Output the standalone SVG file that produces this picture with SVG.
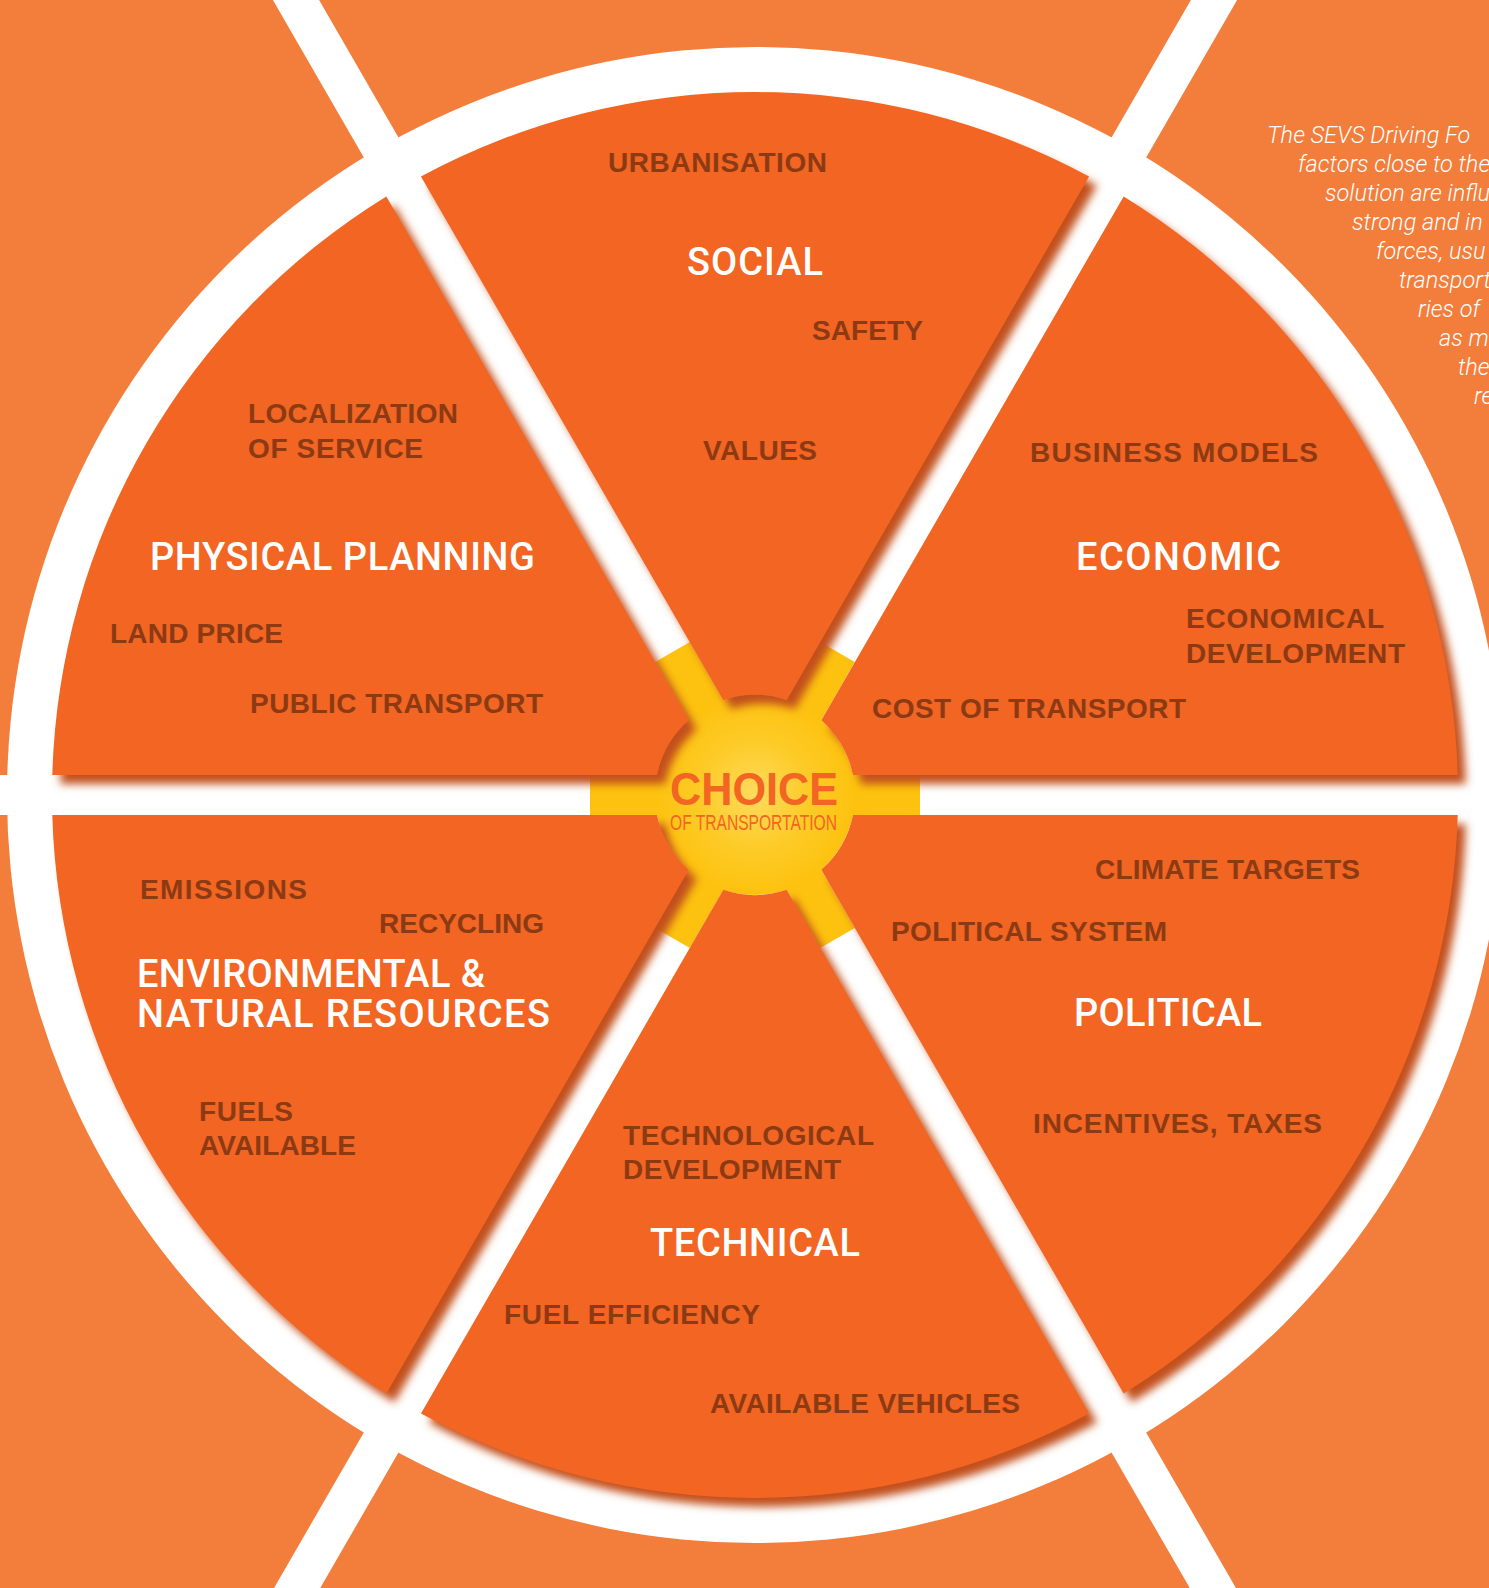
<svg xmlns="http://www.w3.org/2000/svg" xmlns:xlink="http://www.w3.org/1999/xlink" width="1489" height="1588" viewBox="0 0 1489 1588">
<defs>
<style>
.lbl{font-family:"Liberation Sans",Arial,sans-serif;font-weight:bold;font-size:28px;fill:#8B3A14}
.ttl{font-family:Roboto,"Liberation Sans",Arial,sans-serif;font-weight:500;font-size:38px;fill:#FFFFFF}
.note{font-family:Roboto,"Liberation Sans",Arial,sans-serif;font-weight:300;font-style:italic;font-size:23.5px;fill:#FFFFFF}
.spoke{stroke:#FFFFFF;stroke-width:40;fill:none}
.bar{fill:#FDC20F}
</style>
<filter id="sh" x="-10%" y="-10%" width="130%" height="130%">
<feDropShadow dx="8" dy="9" stdDeviation="4.5" flood-color="#C2501B" flood-opacity="1"/>
</filter>
<radialGradient id="hubg" cx="755" cy="795" r="100" gradientUnits="userSpaceOnUse">
<stop offset="0" stop-color="#FFDB5E"/>
<stop offset="0.55" stop-color="#FDCB27"/>
<stop offset="1" stop-color="#FDC20F"/>
</radialGradient>
<path id="sector" fill="#F26522" d="M723.33,700.15 L420.96,176.43 A703,703 0 0,1 1089.04,176.43 L786.67,700.15 A100,100 0 0,0 723.33,700.15 Z"/>
</defs>

<rect x="0" y="0" width="1489" height="1588" fill="#F37D3B"/>

<g id="ring">
<circle cx="755" cy="795" r="748" fill="#FFFFFF"/>
</g>
<g id="spokes">
<line class="spoke" x1="-100" y1="795" x2="1600" y2="795"/>
<line class="spoke" x1="1355" y1="-244.2" x2="155" y2="1834.2"/>
<line class="spoke" x1="155" y1="-244.2" x2="1355" y2="1834.2"/>
</g>

<g id="hub-base">
<rect class="bar" x="590" y="775" width="330" height="40"/>
<rect class="bar" x="590" y="775" width="330" height="40" transform="rotate(60 755 795)"/>
<rect class="bar" x="590" y="775" width="330" height="40" transform="rotate(120 755 795)"/>
<circle cx="755" cy="795" r="100" fill="url(#hubg)"/>
</g>

<g id="social">
<g filter="url(#sh)"><use xlink:href="#sector" href="#sector"/></g>
<text class="lbl" x="608" y="172" textLength="219">URBANISATION</text>
<text class="ttl" x="687" y="275" textLength="136">SOCIAL</text>
<text class="lbl" x="812" y="340" textLength="111">SAFETY</text>
<text class="lbl" x="703" y="460" textLength="114">VALUES</text>
</g>

<g id="economic">
<g filter="url(#sh)"><use xlink:href="#sector" href="#sector" transform="rotate(60 755 795)"/></g>
<text class="lbl" x="1030" y="462" textLength="288">BUSINESS MODELS</text>
<text class="ttl" x="1076" y="570" textLength="205">ECONOMIC</text>
<text class="lbl" x="1186" y="628" textLength="198">ECONOMICAL</text>
<text class="lbl" x="1186" y="663" textLength="219">DEVELOPMENT</text>
<text class="lbl" x="872" y="718" textLength="314">COST OF TRANSPORT</text>
</g>

<g id="political">
<g filter="url(#sh)"><use xlink:href="#sector" href="#sector" transform="rotate(120 755 795)"/></g>
<text class="lbl" x="1095" y="879" textLength="265">CLIMATE TARGETS</text>
<text class="lbl" x="891" y="941" textLength="276">POLITICAL SYSTEM</text>
<text class="ttl" x="1074" y="1026" textLength="188">POLITICAL</text>
<text class="lbl" x="1033" y="1133" textLength="289">INCENTIVES, TAXES</text>
</g>

<g id="technical">
<g filter="url(#sh)"><use xlink:href="#sector" href="#sector" transform="rotate(180 755 795)"/></g>
<text class="lbl" x="623" y="1145" textLength="251">TECHNOLOGICAL</text>
<text class="lbl" x="623" y="1179" textLength="218">DEVELOPMENT</text>
<text class="ttl" x="650" y="1256" textLength="210">TECHNICAL</text>
<text class="lbl" x="504" y="1324" textLength="256">FUEL EFFICIENCY</text>
<text class="lbl" x="710" y="1413" textLength="310">AVAILABLE VEHICLES</text>
</g>

<g id="environmental">
<g filter="url(#sh)"><use xlink:href="#sector" href="#sector" transform="rotate(240 755 795)"/></g>
<text class="lbl" x="140" y="899" textLength="167">EMISSIONS</text>
<text class="lbl" x="379" y="933" textLength="165">RECYCLING</text>
<text class="ttl" x="137" y="987" textLength="348">ENVIRONMENTAL &amp;</text>
<text class="ttl" x="137" y="1027" textLength="413">NATURAL RESOURCES</text>
<text class="lbl" x="199" y="1121" textLength="94">FUELS</text>
<text class="lbl" x="199" y="1155" textLength="157">AVAILABLE</text>
</g>

<g id="physical-planning">
<g filter="url(#sh)"><use xlink:href="#sector" href="#sector" transform="rotate(300 755 795)"/></g>
<text class="lbl" x="248" y="423" textLength="210">LOCALIZATION</text>
<text class="lbl" x="248" y="458" textLength="175">OF SERVICE</text>
<text class="ttl" x="150" y="570" textLength="385">PHYSICAL PLANNING</text>
<text class="lbl" x="110" y="643" textLength="173">LAND PRICE</text>
<text class="lbl" x="250" y="713" textLength="293">PUBLIC TRANSPORT</text>
</g>

<g id="choice">
<text x="670" y="805" textLength="168" lengthAdjust="spacingAndGlyphs" style="font-family:'Liberation Sans',Arial,sans-serif;font-weight:bold;font-size:47px;fill:#F26522">CHOICE</text>
<text x="670" y="830" textLength="167" lengthAdjust="spacingAndGlyphs" style="font-family:'Liberation Sans',Arial,sans-serif;font-size:22px;fill:#F26522">OF TRANSPORTATION</text>
</g>

<g id="note">
<text class="note" x="1267" y="143">The SEVS Driving Fo</text>
<text class="note" x="1298" y="172">factors close to the</text>
<text class="note" x="1325" y="201">solution are influ</text>
<text class="note" x="1352" y="230">strong and in</text>
<text class="note" x="1376" y="259">forces, usu</text>
<text class="note" x="1399" y="288">transport</text>
<text class="note" x="1418" y="317">ries of</text>
<text class="note" x="1439" y="346">as m</text>
<text class="note" x="1458" y="375">the</text>
<text class="note" x="1474" y="404">re</text>
</g>
</svg>
